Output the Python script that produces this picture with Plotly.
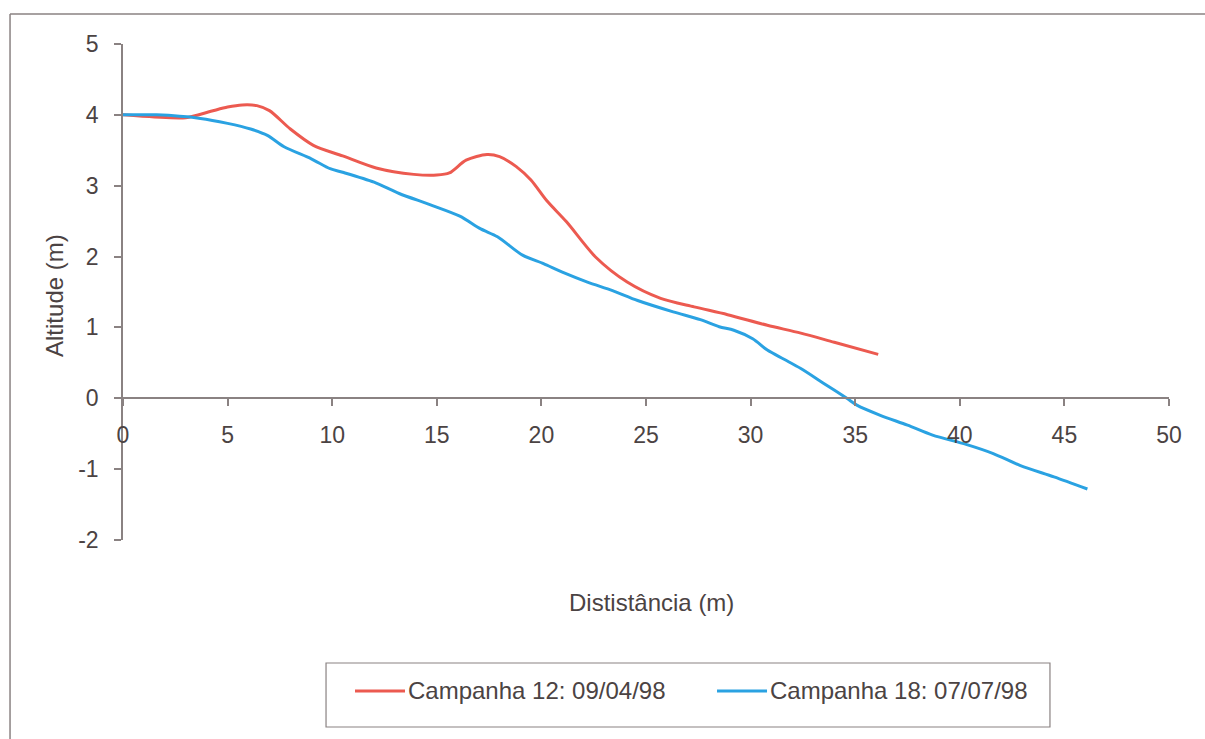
import plotly.graph_objects as go

# Beach profile surveys: distance along the transect (m) vs altitude (m)
series_names = ["Campanha 12: 09/04/98", "Campanha 18: 07/07/98"]

dist_c12 = [0, 1.5, 3.0, 4.2, 5.0, 5.7, 6.4, 7.0, 8.0, 9.1, 10.5, 12.1, 13.9,
            15.0, 15.6, 16.4, 17.4, 18.0, 18.8, 19.5, 20.25, 21.2, 22.6, 24.1,
            25.7, 27.3, 28.9, 30.8, 32.4, 34.0, 36.1]
alt_c12 = [4.0, 3.97, 3.96, 4.05, 4.11, 4.14, 4.13, 4.06, 3.8, 3.57, 3.42, 3.25,
           3.16, 3.15, 3.18, 3.36, 3.44, 3.41, 3.27, 3.08, 2.79, 2.49, 1.99, 1.64,
           1.41, 1.29, 1.18, 1.03, 0.92, 0.79, 0.62]

dist_c18 = [0, 1.6, 3.7, 5.0, 6.1, 6.9, 7.7, 9.0, 9.9, 10.5, 12.0, 13.2, 14.7,
            16.1, 17.1, 17.9, 19.1, 20.1, 21.0, 22.2, 23.4, 24.6, 26.3, 27.6,
            28.5, 29.2, 30.1, 30.8, 31.6, 32.4, 33.5, 34.6, 35.1, 36.2, 37.5,
            38.7, 40.3, 41.6, 42.9, 44.5, 46.1]
alt_c18 = [4.0, 4.0, 3.95, 3.88, 3.80, 3.71, 3.55, 3.38, 3.24, 3.19, 3.05, 2.89,
           2.73, 2.57, 2.39, 2.28, 2.02, 1.90, 1.78, 1.64, 1.52, 1.38, 1.22, 1.11,
           1.01, 0.96, 0.84, 0.68, 0.55, 0.42, 0.21, 0.0, -0.10, -0.24, -0.38,
           -0.52, -0.65, -0.78, -0.95, -1.11, -1.28]

x_ticks = list(range(0, 51, 5))
y_ticks = list(range(-2, 6))
y_tick_text = [str(v) for v in y_ticks]  # plain hyphen for negatives

line_colors = ["#ec5a50", "#2aa2e2"]
text_color = "#4b4343"
axis_color = "#8a8282"
font_family = "Liberation Sans, Arial, sans-serif"
tick_size = 23
label_size = 24

X_RANGE = [0, 50]
Y_RANGE = [-2, 5]

fig = go.Figure()
for xs, ys, name, color in zip([dist_c12, dist_c18], [alt_c12, alt_c18],
                               series_names, line_colors):
    fig.add_trace(go.Scatter(
        x=xs, y=ys, name=name, mode="lines",
        line=dict(color=color, width=3, shape="spline", smoothing=0.8),
        showlegend=False,
    ))

# horizontal axis sits at altitude 0
zero_pos = (0 - Y_RANGE[0]) / (Y_RANGE[1] - Y_RANGE[0])

fig.update_layout(
    width=1205, height=739,
    margin=dict(l=123, r=36, t=44, b=199),
    paper_bgcolor="white", plot_bgcolor="white",
    font=dict(family=font_family, size=tick_size, color=text_color),
    xaxis=dict(
        range=X_RANGE, tickvals=x_ticks, anchor="free", position=zero_pos,
        showline=True, linecolor=axis_color, linewidth=1.5,
        ticks="outside", ticklen=7, tickcolor=axis_color, tickwidth=1.5,
        ticklabelstandoff=9, showgrid=False, zeroline=False,
        tickfont=dict(size=tick_size, color=text_color),
    ),
    yaxis=dict(
        range=Y_RANGE, tickvals=y_ticks, ticktext=y_tick_text,
        showline=True, linecolor=axis_color, linewidth=1.5,
        ticks="outside", ticklen=7, tickcolor=axis_color, tickwidth=1.5,
        ticklabelstandoff=11, showgrid=False, zeroline=False,
        tickfont=dict(size=tick_size, color=text_color),
    ),
)

annotations = [
    dict(text="Dististância (m)", xref="paper", yref="paper", x=0.5057, y=-0.127,
         showarrow=False, xanchor="center", yanchor="middle",
         font=dict(size=label_size, color=text_color)),
    dict(text="Altitude (m)", xref="paper", yref="paper", x=-0.065, y=0.492,
         showarrow=False, xanchor="center", yanchor="middle", textangle=-90,
         font=dict(size=label_size, color=text_color)),
]

shapes = [
    # outer frame (left and top edges)
    dict(type="line", xref="paper", yref="paper", x0=-0.108, x1=-0.108,
         y0=1.0605, y1=-0.41, line=dict(color=axis_color, width=1.5)),
    dict(type="line", xref="paper", yref="paper", x0=-0.108, x1=1.04,
         y0=1.0605, y1=1.0605, line=dict(color=axis_color, width=1.5)),
    # legend box
    dict(type="rect", xref="paper", yref="paper", x0=0.1941, x1=0.8862,
         y0=-0.377, y1=-0.248, line=dict(color=axis_color, width=1.2),
         fillcolor="white"),
]

legend_y = -0.3044
legend_items = [(0.2218, 0.2696, 0.2706), (0.5679, 0.6157, 0.6166)]
for (sx0, sx1, tx), name, color in zip(legend_items, series_names, line_colors):
    shapes.append(dict(type="line", xref="paper", yref="paper", x0=sx0, x1=sx1,
                       y0=legend_y, y1=legend_y, line=dict(color=color, width=3)))
    annotations.append(dict(text=name, xref="paper", yref="paper", x=tx, y=legend_y,
                            showarrow=False, xanchor="left", yanchor="middle",
                            font=dict(size=label_size, color=text_color)))

fig.update_layout(shapes=shapes, annotations=annotations)

fig.write_html("out.html")
